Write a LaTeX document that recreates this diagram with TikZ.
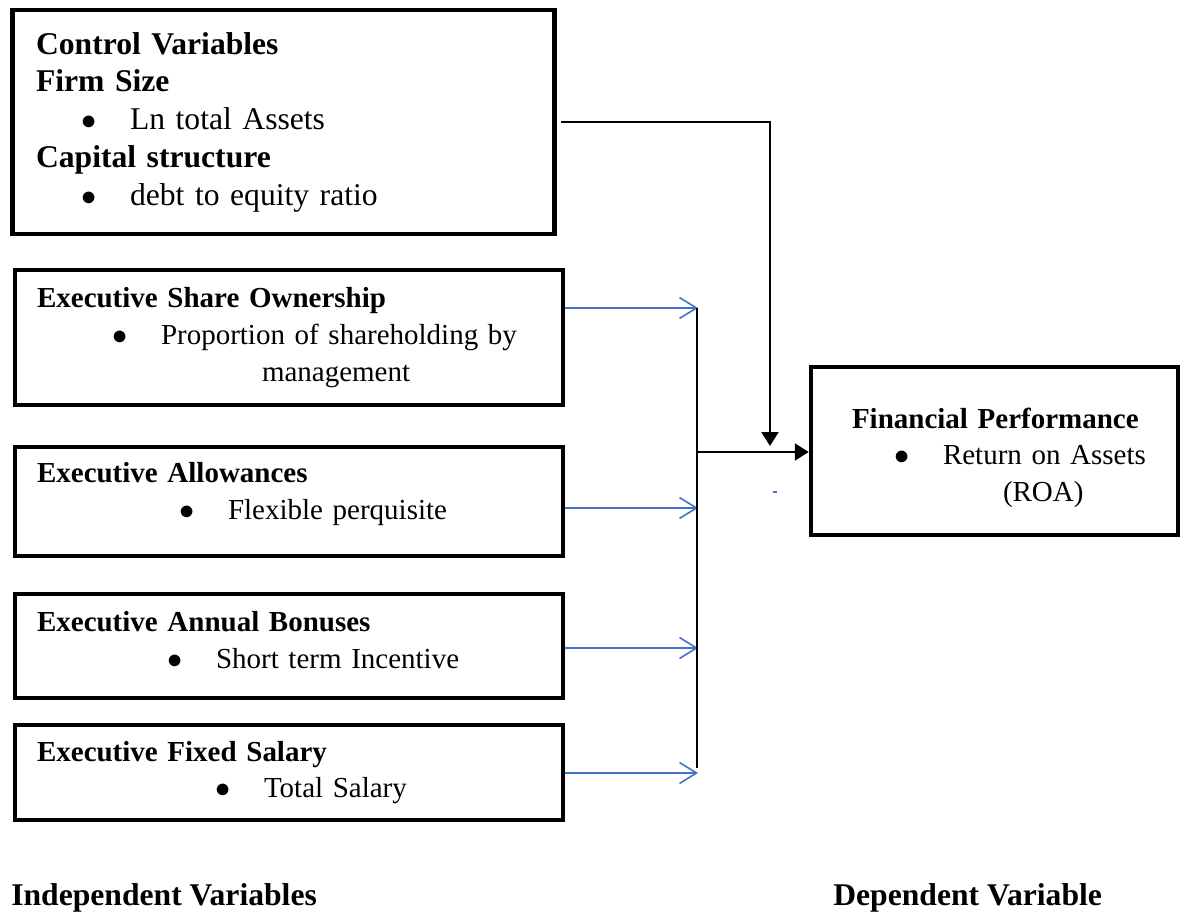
\documentclass[tikz,border=0pt]{standalone}
\usepackage{fontspec}
\setmainfont{Liberation Serif}
\usepackage{tikz}
\usetikzlibrary{positioning}
\usetikzlibrary{arrows.meta}

\definecolor{linkblue}{RGB}{68,114,196}
\newcommand{\bulletat}[2]{\hspace*{#1}\makebox[0pt]{$\bullet$}\hspace*{0.82cm}#2}

\begin{document}
\begin{tikzpicture}[
    x=0.02cm, y=-0.02cm,
    node distance=0.7cm and 1.5cm,
    ctrlbox/.style={draw,line width=2.8pt,text width=9.9cm,inner xsep=0.48cm,inner ysep=0pt,
        minimum height=4.48cm,align=left,font=\fontsize{18}{21.5}\selectfont},
    varbox/.style={draw,line width=2.3pt,text width=10.08cm,inner xsep=0.44cm,inner ysep=0pt,
        align=left,font=\fontsize{16.5}{21}\selectfont},
    perfbox/.style={draw,line width=2.6pt,text width=6.2cm,inner xsep=0.57cm,inner ysep=0pt,
        minimum height=3.36cm,align=left,font=\fontsize{16.5}{20.7}\selectfont},
    caption/.style={anchor=west,inner sep=0pt,font=\fontsize{18}{21.5}\selectfont\bfseries},
    bluearrow/.style={draw=linkblue,line width=0.9pt,-{Straight Barb[length=0.34cm,width=0.42cm]}},
    blackarrow/.style={draw,line width=1.2pt,-{Triangle[length=0.28cm,width=0.34cm]}},
    blackline/.style={draw,line width=1.2pt}
    ]

    \node[ctrlbox] (ctrl) at (283.5,122) {\textbf{Control Variables}\\
        \textbf{Firm Size}\\
        \bulletat{1.06cm}{Ln total Assets}\\
        \textbf{Capital structure}\\
        \bulletat{1.06cm}{debt to equity ratio}};

    \node[varbox, minimum height=2.7cm] (share) at (289,337.5) {\textbf{Executive Share Ownership}\\
        \bulletat{1.66cm}{Proportion of shareholding by}\\
        \hspace*{4.5cm}management};
    \node[varbox, minimum height=2.18cm, below=0.76cm of share] (allow) {\textbf{Executive Allowances}\\
        \bulletat{3.0cm}{Flexible perquisite}\\[-0.3cm]\mbox{}};
    \node[varbox, minimum height=2.08cm, below=0.68cm of allow] (bonus) {\textbf{Executive Annual Bonuses}\\
        \bulletat{2.76cm}{Short term Incentive}\\[-0.5cm]\mbox{}};
    \node[varbox, minimum height=1.9cm, below=0.46cm of bonus] (salary) {\textbf{Executive Fixed Salary}\\
        \bulletat{3.72cm}{Total Salary}};

    \node[perfbox] (perf) at (994.5,451) {\mbox{}\\[-0.05cm]
        \hspace*{0.25cm}\textbf{Financial Performance}\\
        \bulletat{1.25cm}{Return on Assets}\\
        \hspace*{3.27cm}(ROA)};

    \node[caption] (indep) at (11,898) {Independent Variables};
    \node[caption] (dep) at (833,898) {Dependent Variable};

    \coordinate (tapShare) at (698,308);
    \coordinate (tapAllow) at (698,508);
    \coordinate (tapBonus) at (698,648);
    \coordinate (tapSalary) at (698,773);
    \coordinate (busTop) at (697,308);
    \coordinate (busEnd) at (697,768);
    \coordinate (busMid) at (697,452);
    \coordinate (ctrlCorner) at (770,122);
    \coordinate (ctrlDrop) at (770,446);

    \path (share.east |- tapShare) edge[bluearrow] (tapShare)
    (allow.east |- tapAllow) edge[bluearrow] (tapAllow)
    (bonus.east |- tapBonus) edge[bluearrow] (tapBonus)
    (salary.east |- tapSalary) edge[bluearrow] (tapSalary)
    (busTop) edge[blackline] (busEnd)
    (busMid) edge[blackarrow] (perf.west |- busMid)
    ;

    \draw[blackarrow, line join=miter] ([xshift=2pt]ctrl.east |- ctrlCorner) -- (ctrlCorner) -- (ctrlDrop);

    % stray mark
    \draw[draw=linkblue,line width=1pt] (773,492) -- (777,492);

    \useasboundingbox (0,0) rectangle (1181,915);
  \end{tikzpicture}
\end{document}
